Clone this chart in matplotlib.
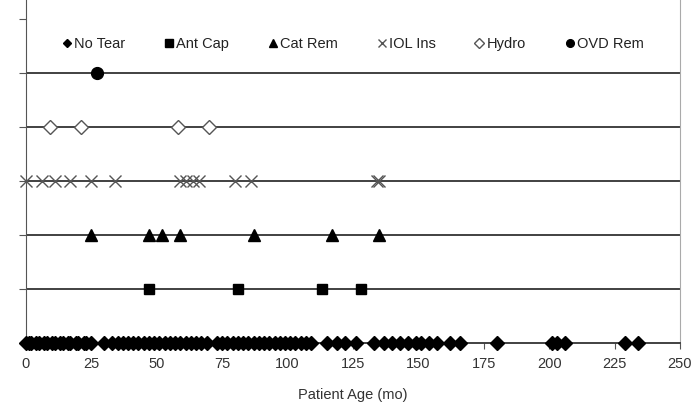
import matplotlib
matplotlib.use("Agg")
import matplotlib.pyplot as plt

plt.rcParams['font.family'] = ['Liberation Sans', 'DejaVu Sans']

# patient ages (months) per group
no_tear = [0, 1, 2, 4, 5, 7, 8, 10, 11, 13, 14, 16, 17, 19, 20, 22, 23, 25,
           30, 33, 35, 37, 39, 41, 43, 45, 47, 49, 51, 53, 55, 57, 59, 61,
           63, 65, 67, 69, 73, 75, 77, 79, 81, 83, 85, 87, 89, 91, 93, 95,
           97, 99, 101, 103, 105, 107, 109, 115, 119, 122, 126, 133, 137,
           140, 143, 146, 149, 151, 154, 157, 162, 166, 180, 201, 203, 206,
           229, 234]
ant_cap = [47, 81, 113, 128]
cat_rem = [25, 47, 52, 59, 87, 117, 135]
iol_ins = [0, 6, 11, 17, 25, 34, 59, 61, 64, 66, 80, 86, 134, 135]
hydro = [9, 21, 58, 70]
ovd_rem = [27]

labels = ["No Tear", "Ant Cap", "Cat Rem", "IOL Ins", "Hydro", "OVD Rem"]
groups = [no_tear, ant_cap, cat_rem, iol_ins, hydro, ovd_rem]
rows = [0, 1, 2, 3, 4, 5]
x_ticks = [0, 25, 50, 75, 100, 125, 150, 175, 200, 225, 250]

styles = [
    dict(marker="D", ms=6.8, color="black"),
    dict(marker="s", ms=7.8, color="black"),
    dict(marker="^", ms=9, color="black"),
    dict(marker="x", ms=8.5, color="#555555", mew=1.0),
    dict(marker="D", ms=7.5, mfc="white", mec="#555555", mew=1.0, color="#555555"),
    dict(marker="o", ms=8.5, color="black"),
]

fig = plt.figure(figsize=(7, 4.15), dpi=100)
ax = fig.add_axes([26 / 700, 72 / 415, 654 / 700, 343 / 415])

for r in rows[1:]:
    ax.axhline(r, color="#333333", lw=1.3, zorder=1)

for vals, r, lab, st in zip(groups, rows, labels, styles):
    ax.plot(vals, [r] * len(vals), ls="none", label=lab, clip_on=False,
            zorder=3, **st)

ax.set_xlim(0, 250)
ax.set_ylim(0, 343 / 54)
ax.set_xticks(x_ticks)
ax.set_yticks(rows + [6])
ax.set_yticklabels([])
ax.tick_params(axis="x", direction="out", length=4, color="#555555",
               labelcolor="#333333", labelsize=10.5, pad=6)
ax.tick_params(axis="y", direction="out", length=5, color="#555555")
ax.spines["top"].set_visible(False)
ax.spines["left"].set_color("#555555")
ax.spines["bottom"].set_color("#333333")
ax.spines["bottom"].set_linewidth(1.3)
ax.spines["right"].set_color("#aaaaaa")
ax.set_xlabel("Patient Age (mo)", fontsize=10.5, color="#333333", labelpad=12)

ax.legend(loc="center", bbox_to_anchor=(0.5, 0.872), ncol=6,
          frameon=False, markerscale=0.65, handlelength=0.6, handletextpad=0.2,
          columnspacing=2.7, fontsize=10.5, labelcolor="#222222")

fig.savefig("out.png", dpi=100)
